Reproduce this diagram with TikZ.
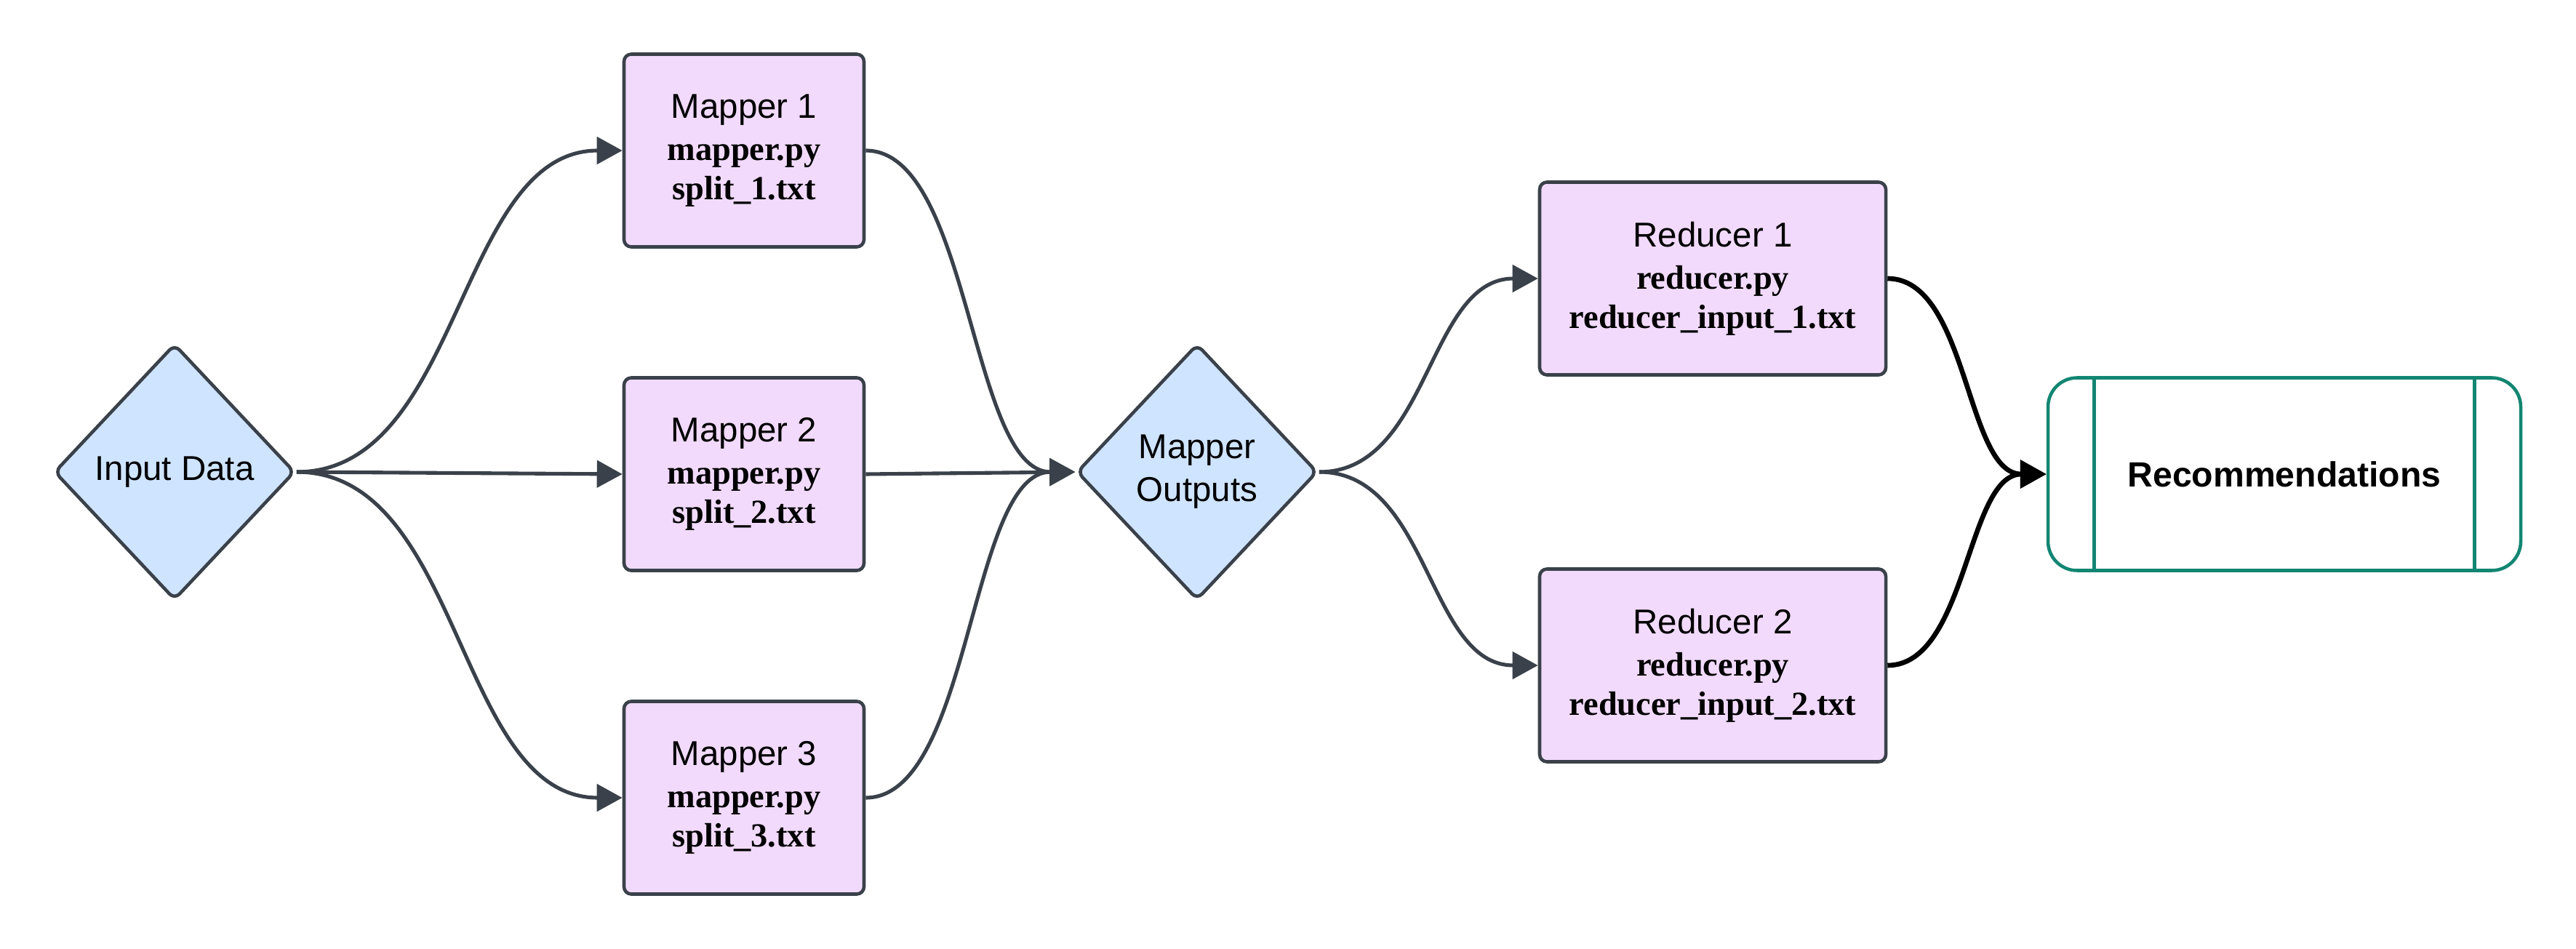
\documentclass[tikz,border=0pt]{standalone}
\usepackage{fontspec}
\setmainfont{Liberation Serif}
\setsansfont{Liberation Sans}
\usetikzlibrary{shapes.geometric,arrows.meta}
\definecolor{edgegray}{RGB}{58,65,74}
\definecolor{boxpurple}{RGB}{242,218,252}
\definecolor{diablue}{RGB}{207,228,255}
\definecolor{recteal}{RGB}{18,134,114}
\newcommand{\toplab}[1]{{\sffamily\mdseries\fontsize{13.5}{16.5}\selectfont #1}}
\begin{document}
\begin{tikzpicture}[
  procbox/.style={draw=edgegray, fill=boxpurple, line width=1.3pt, rounded corners=0.1cm,
    minimum height=2.65cm, inner sep=0pt, align=center, font=\rmfamily\bfseries\fontsize{13.2}{15.4}\selectfont},
  decbox/.style={diamond, draw=edgegray, fill=diablue, line width=1.3pt, rounded corners=0.1cm,
    minimum width=3.31cm, minimum height=3.52cm, inner sep=0pt, align=center,
    font=\sffamily\fontsize{13.5}{16.8}\selectfont},
  resbox/.style={draw=recteal, line width=1.3pt, rounded corners=0.4cm, fill=white,
    minimum width=6.50cm, minimum height=2.65cm, inner sep=0pt,
    font=\sffamily\bfseries\fontsize{13.7}{16}\selectfont},
  conn/.style={draw=edgegray, line width=1.45pt, -{Triangle[length=0.35cm,width=0.37cm]}},
  darkconn/.style={draw=black, line width=1.9pt, -{Triangle[length=0.36cm,width=0.38cm]}}
]
\useasboundingbox (0,0) rectangle (35.42,-13.05);
\fill[white] (0,0) rectangle (35.42,-13.05);

% nodes
\node[decbox] (ID) at (2.40,-6.49) {Input Data};
\node[procbox, minimum width=3.30cm] (M1) at (10.23,-2.07) {\toplab{Mapper 1}\\[1.1pt]mapper.py\\split\_1.txt};
\node[procbox, minimum width=3.30cm] (M2) at (10.23,-6.52) {\toplab{Mapper 2}\\[1.1pt]mapper.py\\split\_2.txt};
\node[procbox, minimum width=3.30cm] (M3) at (10.23,-10.97) {\toplab{Mapper 3}\\[1.1pt]mapper.py\\split\_3.txt};
\node[decbox] (MO) at (16.46,-6.49) {Mapper\\Outputs};
\node[procbox, minimum width=4.76cm] (R1) at (23.55,-3.83) {\toplab{Reducer 1}\\[1.1pt]reducer.py\\reducer\_input\_1.txt};
\node[procbox, minimum width=4.76cm] (R2) at (23.55,-9.15) {\toplab{Reducer 2}\\[1.1pt]reducer.py\\reducer\_input\_2.txt};
\node[resbox] (Rec) at (31.41,-6.52) {Recommendations};
\draw[recteal, line width=1.3pt] ([xshift=0.66cm]Rec.north west) -- ([xshift=0.66cm]Rec.south west);
\draw[recteal, line width=1.3pt] ([xshift=-0.66cm]Rec.north east) -- ([xshift=-0.66cm]Rec.south east);

% connectors
\draw[conn] (ID.east) to[out=0,in=180,looseness=0.92] (M1.west);
\draw[conn] (ID.east) -- (M2.west);
\draw[conn] (ID.east) to[out=0,in=180,looseness=0.92] (M3.west);
\draw[conn] (M1.east) to[out=0,in=180,looseness=0.70] (MO.west);
\draw[conn] (M2.east) -- (MO.west);
\draw[conn] (M3.east) to[out=0,in=180,looseness=0.70] (MO.west);
\draw[conn] (MO.east) to[out=0,in=180,looseness=0.97] (R1.west);
\draw[conn] (MO.east) to[out=0,in=180,looseness=0.97] (R2.west);
\draw[darkconn] (R1.east) to[out=0,in=180,looseness=0.82] (Rec.west);
\draw[darkconn] (R2.east) to[out=0,in=180,looseness=0.82] (Rec.west);
\end{tikzpicture}
\end{document}
